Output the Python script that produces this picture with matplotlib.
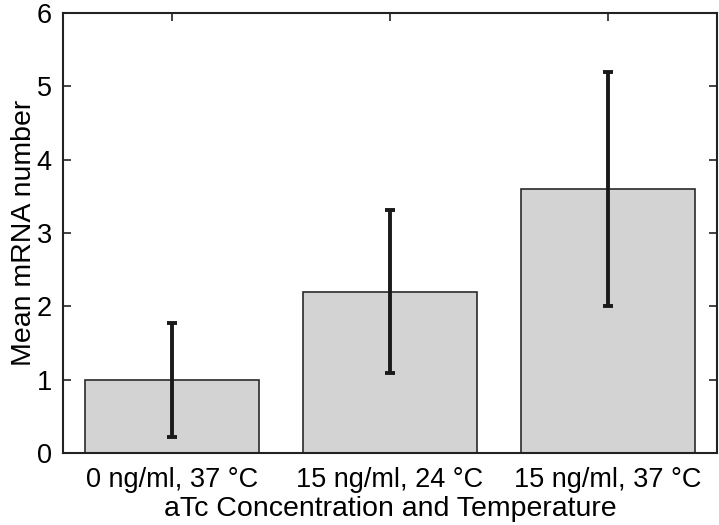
import numpy as np
import matplotlib.pyplot as plt

plt.rcParams['font.family'] = ['Liberation Sans', 'DejaVu Sans']

conditions = ['0 ng/ml, 37 \u00b0C', '15 ng/ml, 24 \u00b0C', '15 ng/ml, 37 \u00b0C']
mean_mrna = [1.0, 2.2, 3.6]
err = [0.78, 1.11, 1.6]

fig = plt.figure(figsize=(7.19, 5.25), dpi=100)
ax = fig.add_axes([0.0876, 0.137, 0.9094, 0.838])

x = np.arange(1, len(conditions) + 1)
ax.bar(x, mean_mrna, width=0.8, color='#d3d3d3', edgecolor='#2a2a2a', linewidth=1.2, zorder=2)
ax.errorbar(x, mean_mrna, yerr=err, fmt='none', ecolor='#1a1a1a', elinewidth=2.8,
            capsize=3.3, capthick=2.8, zorder=3)

ax.set_xlim(0.5, 3.5)
ax.set_ylim(0, 6)
ax.set_xticks(x)
ax.set_xticklabels(conditions)
ax.set_yticks(range(0, 7))
ax.tick_params(direction='in', top=True, right=True, length=6, width=1.2,
               labelsize=19.5, color='#222222')
ax.tick_params(axis='x', pad=10)
ax.tick_params(axis='y', pad=8)
for s in ax.spines.values():
    s.set_linewidth(1.5)
    s.set_color('#222222')

ax.set_xlabel('aTc Concentration and Temperature', fontsize=20.5, labelpad=2)
ax.set_ylabel('Mean mRNA number', fontsize=20.5, labelpad=0)

fig.savefig('out.png', dpi=100)
